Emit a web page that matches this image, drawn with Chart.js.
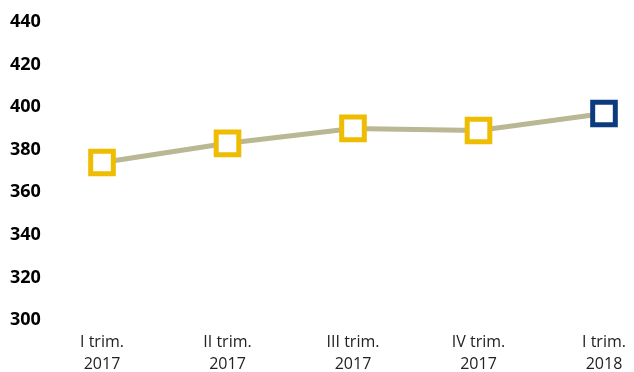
<!DOCTYPE html>
<html>
<head>
<meta charset="utf-8">
<script src="https://cdn.jsdelivr.net/npm/chart.js@4/dist/chart.umd.min.js"></script>
<style>
  html, body { margin: 0; padding: 0; background: #fff; }
  #wrap { width: 634px; height: 372px; }
</style>
</head>
<body>
<div id="wrap"><canvas id="chart"></canvas></div>
<script>
var quarters = [["I trim.", "2017"], ["II trim.", "2017"], ["III trim.", "2017"], ["IV trim.", "2017"], ["I trim.", "2018"]];
var values = [374, 383, 390, 389, 397];
var yTicks = [300, 320, 340, 360, 380, 400, 420, 440];

var yellow = "#eebc00";
var navy = "#0b3b7c";
var markerColors = values.map(function (v, i) { return i === values.length - 1 ? navy : yellow; });

var ctx = document.getElementById("chart");
var lineChart = new Chart(ctx, {
    type: "line",
    data: {
        labels: quarters,
        datasets: [{
            data: values,
            borderColor: "#bab795",
            borderWidth: 5,
            lineTension: 0,
            pointStyle: "rect",
            pointRadius: 16,
            pointHoverRadius: 16,
            pointBorderWidth: 5,
            pointBackgroundColor: "#ffffff",
            pointBorderColor: markerColors
        }]
    },
    options: {
        responsive: true,
        maintainAspectRatio: false,
        animation: false,
        layout: { autoPadding: false, padding: { left: 10, right: 30, top: 22, bottom: 0 } },
        plugins: { legend: { display: false }, tooltip: { enabled: false } },
        scales: {
            x: {
                offset: false,
                afterFit: function (axis) {
                    axis.height = 52;
                    axis.paddingLeft = 0;
                    axis.paddingRight = 0;
                },
                grid: { display: false, drawTicks: false },
                border: { display: false },
                ticks: {
                    color: "#222",
                    padding: 11,
                    maxRotation: 0,
                    font: { family: "'Open Sans'", size: 16, lineHeight: 1.375 }
                }
            },
            y: {
                min: 300,
                max: 440,
                afterBuildTicks: function (axis) {
                    axis.ticks = yTicks.map(function (v) { return { value: v }; });
                },
                afterFit: function (axis) { axis.width = 92; },
                grid: { display: false, drawTicks: false },
                border: { display: false },
                ticks: {
                    color: "#000",
                    padding: 0,
                    crossAlign: "far",
                    font: { family: "'Open Sans'", size: 18, weight: "bold" }
                }
            }
        }
    }
});
</script>
</body>
</html>
